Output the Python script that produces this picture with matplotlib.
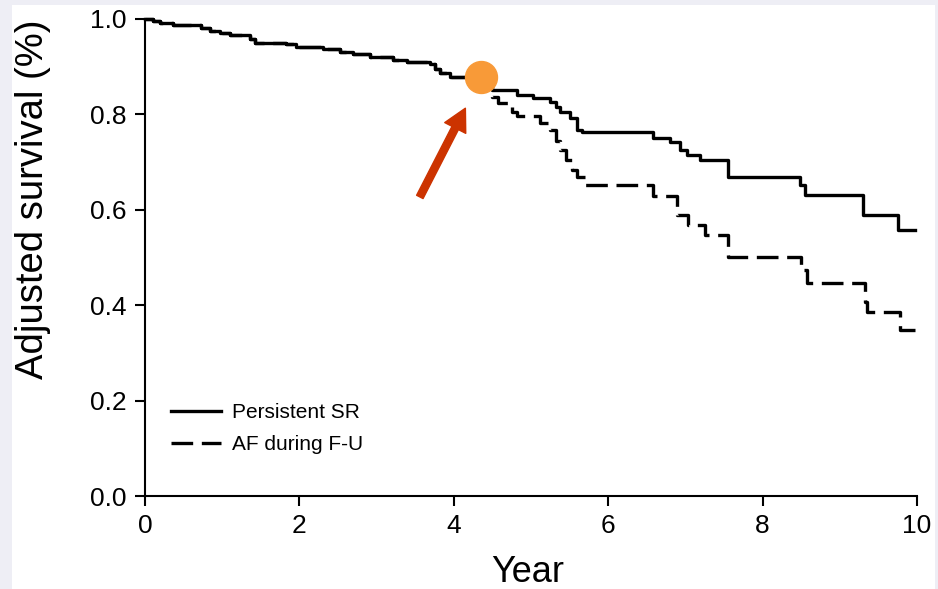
import matplotlib.pyplot as plt
from matplotlib.patches import Rectangle

plt.rcParams['font.family'] = ['Liberation Sans', 'DejaVu Sans']

# Adjusted survival, persistent sinus rhythm
sr_years = [0.00, 0.10, 0.19, 0.36, 0.72, 0.84, 0.97, 1.10, 1.36, 1.42, 1.83, 1.96,
            2.31, 2.53, 2.70, 2.91, 3.21, 3.39, 3.69, 3.76, 3.82, 3.95, 4.40, 4.49,
            4.82, 5.03, 5.25, 5.32, 5.38, 5.50, 5.59, 5.66, 6.58, 6.80, 6.93, 7.02,
            7.19, 7.55, 8.48, 8.55, 9.30, 9.76, 9.97]
sr_surv = [1.000, 0.996, 0.991, 0.987, 0.982, 0.975, 0.970, 0.966, 0.958, 0.950, 0.947, 0.942,
           0.938, 0.931, 0.927, 0.921, 0.915, 0.910, 0.905, 0.895, 0.886, 0.879, 0.862, 0.851,
           0.841, 0.834, 0.827, 0.815, 0.806, 0.792, 0.767, 0.764, 0.750, 0.743, 0.725, 0.715,
           0.704, 0.669, 0.652, 0.631, 0.589, 0.558, 0.558]

# Adjusted survival, AF during follow-up
af_years = [0.00, 0.10, 0.19, 0.36, 0.72, 0.84, 0.97, 1.10, 1.36, 1.42, 1.83, 1.96,
            2.31, 2.53, 2.70, 2.91, 3.21, 3.39, 3.69, 3.76, 3.82, 3.95, 4.40, 4.50,
            4.57, 4.75, 4.82, 5.12, 5.25, 5.33, 5.38, 5.45, 5.53, 5.60, 5.70, 6.58,
            6.89, 7.03, 7.25, 7.55, 8.50, 8.57, 9.33, 9.35, 9.78, 9.97]
af_surv = [1.000, 0.996, 0.991, 0.987, 0.982, 0.975, 0.970, 0.966, 0.958, 0.950, 0.947, 0.942,
           0.938, 0.931, 0.927, 0.921, 0.915, 0.910, 0.905, 0.895, 0.886, 0.879, 0.862, 0.837,
           0.823, 0.806, 0.796, 0.782, 0.767, 0.745, 0.725, 0.705, 0.683, 0.669, 0.652, 0.628,
           0.589, 0.568, 0.547, 0.502, 0.474, 0.446, 0.407, 0.386, 0.348, 0.348]

# Point where the two curves separate, and the arrow pointing at it
split_point = (4.35, 0.879)
arrow_tail = (3.56, 0.627)
arrow_tip = (4.15, 0.813)

fig = plt.figure(figsize=(9.38, 5.89), dpi=100, facecolor='#EEEEF5')
fig.patches.append(Rectangle((12 / 938, 0), 923 / 938, 584 / 589,
                             transform=fig.transFigure, facecolor='white',
                             edgecolor='none', zorder=-10))
ax = fig.add_axes([145 / 938, 93 / 589, 772 / 938, 477 / 589])
ax.set_facecolor('none')

ax.plot(af_years, af_surv, drawstyle='steps-post', color='black', lw=2.4,
        linestyle=(0, (6.5, 2.6)), label='AF during F-U', clip_on=False)
ax.plot(sr_years, sr_surv, drawstyle='steps-post', color='black', lw=2.4,
        label='Persistent SR', clip_on=False)

ax.plot(*split_point, 'o', color='#F89A38', markersize=23, zorder=5, clip_on=False)
ax.annotate('', xy=arrow_tip, xytext=arrow_tail,
            arrowprops=dict(arrowstyle='simple,head_width=0.85,head_length=0.8,tail_width=0.26',
                            mutation_scale=20, color='#CC3300', shrinkA=0, shrinkB=0))

ax.set_xlim(0, 10)
ax.set_ylim(0, 1.0)
ax.set_xticks([0, 2, 4, 6, 8, 10])
ax.set_yticks([0.0, 0.2, 0.4, 0.6, 0.8, 1.0])
ax.set_yticklabels(['0.0', '0.2', '0.4', '0.6', '0.8', '1.0'])
for side in ['top', 'right']:
    ax.spines[side].set_visible(False)
for side in ['left', 'bottom']:
    ax.spines[side].set_linewidth(1.5)
ax.tick_params(direction='out', length=7, width=1.5, labelsize=19, pad=6)

ax.set_xlabel('Year', fontsize=26, va='center')
ax.xaxis.set_label_coords(0.496, -0.161)
ax.set_ylabel('Adjusted survival (%)', fontsize=27.5, va='center')
ax.yaxis.set_label_coords(-0.145, 0.623)

handles, labels = ax.get_legend_handles_labels()
ax.legend(handles[::-1], labels[::-1], loc='lower left', bbox_to_anchor=(0.009, 0.048),
          frameon=False, fontsize=15, handlelength=2.4, handletextpad=0.55,
          labelspacing=0.65)

fig.savefig('out.png', dpi=100, facecolor=fig.get_facecolor())
